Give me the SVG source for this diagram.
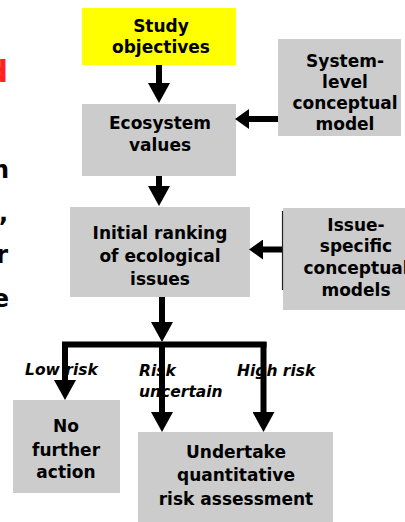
<svg xmlns="http://www.w3.org/2000/svg" width="405" height="522" viewBox="0 0 405 522">
  <style>
    .box { fill: #CCCCCC; }
    .start { fill: #FFFF00; }
    .t { font-family: "DejaVu Sans", "Liberation Sans", sans-serif; font-weight: bold; font-size: 17px; fill: #000; text-anchor: middle; }
    .lbl { font-family: "DejaVu Sans", "Liberation Sans", sans-serif; font-weight: bold; font-style: italic; font-size: 15.5px; fill: #000; }
    .frag { font-family: "DejaVu Sans", "Liberation Sans", sans-serif; font-weight: bold; font-size: 24px; fill: #000; text-anchor: end; }
    .wire { stroke: #000; stroke-width: 6; fill: none; }
  </style>
  <defs>
    <marker id="head" markerUnits="userSpaceOnUse" viewBox="0 0 20 22" refX="0" refY="11" markerWidth="20" markerHeight="22" orient="auto">
      <path d="M0,0 L20,11 L0,22 Z" fill="#000"/>
    </marker>
    <marker id="headSide" markerUnits="userSpaceOnUse" viewBox="0 0 14 20" refX="0" refY="10" markerWidth="14" markerHeight="20" orient="auto">
      <path d="M0,0 L14,10 L0,20 Z" fill="#000"/>
    </marker>
  </defs>

  <!-- trailing letters of the slide text cut off at the left edge -->
  <g id="slide-text">
    <text class="frag" x="8" y="82" style="fill:#FF2020;font-size:30px">d</text>
    <text class="frag" x="9" y="178">n</text>
    <text class="frag" x="8" y="221">,</text>
    <text class="frag" x="8" y="263">r</text>
    <text class="frag" x="9" y="307">e</text>
  </g>

  <g id="study-objectives">
    <rect class="start" x="82" y="8" width="154" height="57"/>
    <text class="t" x="161" y="32">Study</text>
    <text class="t" x="161" y="53">objectives</text>
  </g>

  <g id="ecosystem-values">
    <rect class="box" x="82" y="104" width="154" height="72"/>
    <text class="t" x="160" y="129">Ecosystem</text>
    <text class="t" x="160" y="151">values</text>
  </g>

  <g id="system-level-model">
    <rect class="box" x="278" y="39" width="123" height="97"/>
    <text class="t" x="345" y="67">System-</text>
    <text class="t" x="345" y="88">level</text>
    <text class="t" x="345" y="109">conceptual</text>
    <text class="t" x="345" y="130">model</text>
  </g>

  <g id="initial-ranking">
    <rect class="box" x="70" y="207" width="180" height="90"/>
    <text class="t" x="160" y="239">Initial ranking</text>
    <text class="t" x="160" y="262">of ecological</text>
    <text class="t" x="160" y="285">issues</text>
  </g>

  <g id="issue-specific-models">
    <rect class="box" x="283" y="208" width="122" height="102"/>
    <line x1="282.5" y1="211" x2="282.5" y2="290" stroke="#222" stroke-width="1.2"/>
    <text class="t" x="356" y="231">Issue-</text>
    <text class="t" x="356" y="252">specific</text>
    <text class="t" x="356" y="274">conceptual</text>
    <text class="t" x="356" y="296">models</text>
  </g>

  <g id="no-further-action">
    <rect class="box" x="13" y="400" width="107" height="93"/>
    <text class="t" x="66" y="432">No</text>
    <text class="t" x="66" y="456">further</text>
    <text class="t" x="66" y="478">action</text>
  </g>

  <g id="quantitative-assessment">
    <rect class="box" x="138" y="432" width="195" height="92"/>
    <text class="t" x="236" y="458">Undertake</text>
    <text class="t" x="236" y="481">quantitative</text>
    <text class="t" x="236" y="505">risk assessment</text>
  </g>

  <!-- branch labels sit under the connector lines -->
  <g id="branch-labels">
    <text class="lbl" x="25" y="375">Low risk</text>
    <text class="lbl" x="139" y="376">Risk</text>
    <text class="lbl" x="139" y="397">uncertain</text>
    <text class="lbl" x="237" y="376">High risk</text>
  </g>

  <g id="connectors">
    <line class="wire" x1="159" y1="65" x2="159" y2="83" marker-end="url(#head)"/>
    <line class="wire" x1="159" y1="176" x2="159" y2="186" marker-end="url(#head)"/>
    <line class="wire" x1="278" y1="119" x2="249" y2="119" marker-end="url(#headSide)"/>
    <line class="wire" x1="282" y1="249.5" x2="263" y2="249.5" marker-end="url(#headSide)"/>
    <line class="wire" x1="162" y1="297" x2="162" y2="322" marker-end="url(#head)"/>
    <line class="wire" x1="62" y1="344.5" x2="266.5" y2="344.5"/>
    <line class="wire" x1="65" y1="342" x2="65" y2="380" marker-end="url(#head)"/>
    <line class="wire" x1="162" y1="342" x2="162" y2="412" marker-end="url(#head)"/>
    <line class="wire" x1="263.5" y1="342" x2="263.5" y2="412" marker-end="url(#head)"/>
  </g>
</svg>
